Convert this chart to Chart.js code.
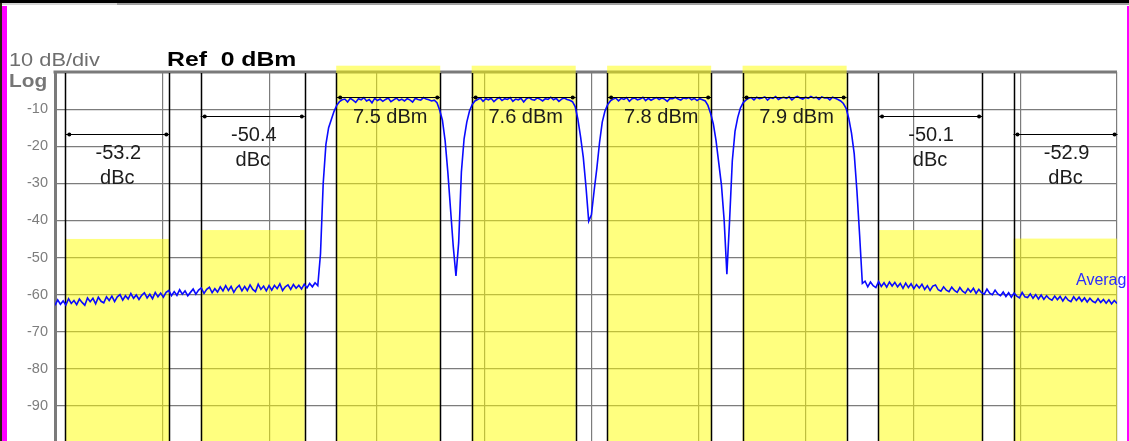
<!DOCTYPE html>
<html>
<head>
<meta charset="utf-8">
<script src="https://cdn.jsdelivr.net/npm/chart.js@4.4.1/dist/chart.umd.min.js"></script>
<style>
  html, body { margin: 0; padding: 0; background: #fff; overflow: hidden; }
  #wrap { width: 1129px; height: 460px; }
</style>
</head>
<body>
<div id="wrap"><canvas id="acp" width="1129" height="460"></canvas></div>
<script>
// SWEEP: 0.1 MHz per point, offset from centre frequency
const traceStart = -19.8;
const traceStep = 0.1;
const traceDbm = [
  -62.9, -61.4, -62.6, -61.7, -62.8, -61.1, -62.4, -61.6, -62.7, -61.2,
  -62.1, -62.9, -60.9, -61.9, -61.0, -62.5, -60.7, -61.8, -62.2, -60.6,
  -61.6, -60.4, -61.9, -60.6, -60.0, -61.5, -60.3, -61.2, -59.7, -61.0,
  -60.1, -61.3, -60.2, -59.5, -60.9, -59.9, -61.1, -59.4, -60.6, -59.6,
  -60.7, -59.4, -58.9, -60.3, -59.2, -60.2, -58.7, -59.9, -59.0, -60.3,
  -59.4, -58.5, -59.9, -58.8, -58.2, -59.7, -58.6, -58.0, -59.5, -58.4,
  -59.3, -57.9, -59.0, -57.6, -58.9, -57.8, -59.4, -58.2, -57.5, -59.0,
  -57.8, -58.9, -57.4, -58.6, -59.2, -57.2, -58.6, -57.7, -59.0, -57.6,
  -58.8, -57.5, -58.4, -57.1, -58.9, -57.9, -57.4, -58.6, -57.3, -58.3,
  -57.5, -58.5, -57.2, -58.2, -57.0, -57.9, -56.8, -57.6, -49.0, -30.0,
  -19.5, -15.0, -12.8, -10.6, -9.0, -8.0, -7.5, -7.3, -8.1, -7.1,
  -7.6, -8.2, -7.2, -7.5, -6.9, -7.8, -7.4, -8.3, -7.1, -7.7,
  -7.3, -7.9, -7.4, -7.0, -8.0, -7.5, -7.0, -7.7, -7.3, -7.8,
  -7.2, -7.5, -8.1, -7.1, -7.4, -7.6, -6.9, -7.3, -7.5, -7.8,
  -7.6, -8.3, -10.3, -13.0, -18.5, -27.0, -37.0, -47.0, -55.0, -46.0,
  -27.0, -18.0, -13.5, -10.5, -8.8, -7.8, -7.4, -7.0, -7.9, -7.2,
  -7.5, -7.1, -8.0, -7.3, -6.9, -7.7, -7.2, -7.4, -6.9, -7.9,
  -7.3, -7.5, -7.1, -8.1, -7.2, -6.9, -7.4, -7.6, -7.0, -7.3,
  -7.8, -7.2, -7.4, -6.8, -7.5, -7.1, -7.9, -7.3, -7.0, -7.4,
  -7.6, -8.0, -9.3, -12.7, -17.5, -23.0, -31.0, -40.2, -38.5, -32.0,
  -26.0, -19.0, -13.5, -10.5, -8.8, -7.8, -7.3, -7.0, -7.8, -7.1,
  -7.4, -6.9, -7.9, -7.2, -7.0, -7.5, -7.3, -6.8, -7.7, -7.1,
  -7.6, -7.2, -6.9, -7.4, -7.0, -7.3, -7.9, -7.1, -7.2, -6.8,
  -7.3, -7.6, -7.0, -7.2, -6.9, -7.5, -7.1, -7.7, -7.2, -7.5,
  -7.8, -9.0, -11.2, -14.0, -18.5, -24.5, -30.5, -40.0, -54.5, -40.0,
  -24.0, -16.0, -12.3, -9.7, -8.3, -7.6, -7.1, -6.9, -7.5, -6.8,
  -7.2, -7.0, -6.7, -7.6, -6.9, -7.1, -6.6, -7.4, -7.0, -6.8,
  -7.1, -6.7, -7.5, -6.9, -6.6, -7.0, -7.3, -6.8, -7.1, -6.6,
  -7.0, -6.8, -7.4, -6.7, -7.0, -6.9, -7.5, -6.8, -7.1, -7.4,
  -7.8, -8.5, -9.8, -12.5, -16.5, -22.0, -32.0, -44.0, -57.0, -56.4,
  -57.9, -56.6, -57.6, -58.1, -56.5, -57.8, -56.8, -58.0, -56.6, -57.7,
  -56.7, -57.9, -57.0, -58.3, -56.9, -58.1, -57.1, -58.4, -57.3, -58.2,
  -57.2, -58.6, -57.6, -58.9, -57.7, -57.4, -58.7, -59.1, -57.9, -58.8,
  -59.2, -58.0, -58.9, -59.4, -58.1, -59.1, -59.6, -58.4, -59.3, -58.3,
  -59.7, -58.6, -59.5, -59.9, -58.5, -59.6, -60.0, -58.8, -59.8, -60.3,
  -59.3, -60.5, -59.5, -60.7, -59.6, -60.4, -60.9, -59.4, -60.6, -60.8,
  -59.8, -61.0, -60.0, -61.2, -60.1, -61.3, -60.3, -61.1, -61.5, -60.4,
  -61.4, -60.5, -61.7, -60.6, -61.5, -61.9, -60.6, -61.6, -60.7, -61.8,
  -60.9, -62.0, -61.0, -61.8, -62.2, -61.1, -62.1, -61.3, -62.3, -61.4,
  -62.5, -61.6, -62.4
];

// ACP channels (MHz offset), integration bw, limit level, readout
const bandCenters = [-17.5, -12.5, -7.5, -2.5, 2.5, 7.5, 12.5, 17.5];
const bandWidth = 3.84;
const bandTops = [-45.0, -42.6, 1.7, 1.7, 1.7, 1.7, -42.6, -44.9];
const arrowLevels = [-16.8, -11.8, -6.8, -6.8, -6.8, -6.8, -11.8, -16.8];
const bandValues = ['-53.2', '-50.4', '7.5', '7.6', '7.8', '7.9', '-50.1', '-52.9'];
const bandUnits = ['dBc', 'dBc', 'dBm', 'dBm', 'dBm', 'dBm', 'dBc', 'dBc'];

// graticule
const yTickLabels = ['-10', '-20', '-30', '-40', '-50', '-60', '-70', '-80', '-90'];
const gridStart = -19.8, gridStep = 3.96, gridCount = 10;
const spanMin = -19.8, spanMax = 19.4;

const points = traceDbm.map((v, i) => ({ x: +(traceStart + i * traceStep).toFixed(2), y: v }));

function stretchText(ctx, txt, x, y, sx, font, color) {
  ctx.save();
  ctx.font = font;
  ctx.fillStyle = color;
  ctx.textAlign = 'left';
  ctx.textBaseline = 'alphabetic';
  ctx.translate(x, y);
  ctx.scale(sx, 1);
  ctx.fillText(txt, 0, 0);
  ctx.restore();
}

const acpPlugin = {
  id: 'acp',
  beforeDatasetsDraw(chart) {
    const { ctx, chartArea: a, scales: { x, y } } = chart;
    // thick top border of the graticule
    ctx.save();
    ctx.strokeStyle = '#7a7a7a';
    ctx.lineWidth = 3;
    ctx.beginPath();
    ctx.moveTo(a.left - 1.5, y.getPixelForValue(0));
    ctx.lineTo(a.right, y.getPixelForValue(0));
    ctx.stroke();

    ctx.beginPath();
    ctx.rect(a.left, 0, a.right - a.left, a.bottom);
    ctx.clip();
    // yellow integration bands
    ctx.fillStyle = 'rgba(255,255,0,0.5)';
    bandCenters.forEach((c, i) => {
      const x0 = x.getPixelForValue(c - bandWidth / 2);
      const x1 = x.getPixelForValue(c + bandWidth / 2);
      const yt = y.getPixelForValue(bandTops[i]);
      ctx.fillRect(x0, yt, x1 - x0, a.bottom - yt);
    });
    // band edges
    ctx.strokeStyle = '#000';
    ctx.lineWidth = 1.5;
    bandCenters.forEach(c => {
      [c - bandWidth / 2, c + bandWidth / 2].forEach(f => {
        const px = Math.round(x.getPixelForValue(f)) + 0.5;
        ctx.beginPath();
        ctx.moveTo(px, a.top + 1);
        ctx.lineTo(px, a.bottom);
        ctx.stroke();
      });
    });
    ctx.restore();
  },
  afterDatasetsDraw(chart) {
    const { ctx, scales: { x, y } } = chart;
    ctx.save();
    bandCenters.forEach((c, i) => {
      const x0 = x.getPixelForValue(c - bandWidth / 2);
      const x1 = x.getPixelForValue(c + bandWidth / 2);
      const ya = Math.round(y.getPixelForValue(arrowLevels[i])) + 0.5;
      ctx.strokeStyle = '#000';
      ctx.lineWidth = 1;
      ctx.beginPath();
      ctx.moveTo(x0, ya);
      ctx.lineTo(x1, ya);
      ctx.stroke();
      ctx.fillStyle = '#000';
      [x0 + 4, x1 - 3].forEach(px => {
        ctx.beginPath();
        ctx.arc(px, ya, 2, 0, Math.PI * 2);
        ctx.fill();
      });
      // readout text
      const xc = x.getPixelForValue(c);
      ctx.font = '20px "Liberation Sans", Arial, sans-serif';
      ctx.textAlign = 'center';
      ctx.textBaseline = 'middle';
      ctx.fillStyle = '#1c1c1c';
      if (bandUnits[i] === 'dBm') {
        ctx.fillText(bandValues[i] + ' ' + bandUnits[i], xc + 2, ya + 20);
      } else {
        ctx.fillText(bandValues[i], xc + 1, ya + 19);
        ctx.fillText(bandUnits[i], xc, ya + 44);
      }
    });
    ctx.restore();
  },
  afterDraw(chart) {
    const { ctx } = chart;
    ctx.save();
    // blank strip right of the graticule
    ctx.fillStyle = '#fff';
    ctx.fillRect(1119, 6, 8, 460);
    // marker text on the trace
    ctx.font = '16px "Liberation Sans", Arial, sans-serif';
    ctx.fillStyle = '#2b2bff';
    ctx.textAlign = 'left';
    ctx.textBaseline = 'alphabetic';
    ctx.fillText('Average', 1076, 285);
    ctx.restore();

    stretchText(ctx, '10 dB/div', 9, 66, 1.21, '18px "Liberation Sans", Arial, sans-serif', '#6e6e6e');
    stretchText(ctx, 'Log', 9, 87, 1.19, 'bold 17.5px "Liberation Sans", Arial, sans-serif', '#767676');
    stretchText(ctx, 'Ref  0 dBm', 167, 66, 1.27, 'bold 19.5px "Liberation Sans", Arial, sans-serif', '#000');

    // window frame
    ctx.save();
    ctx.fillStyle = '#000';
    ctx.fillRect(0, 0, 1129, 3);
    ctx.fillStyle = '#d4d4d4';
    ctx.fillRect(0, 3, 117, 2);
    ctx.fillStyle = '#a0a0a0';
    ctx.fillRect(117, 3, 1012, 2);
    ctx.fillStyle = '#2a2a10';
    ctx.fillRect(0, 3, 2, 460);
    ctx.fillStyle = '#ff00ff';
    ctx.fillRect(2, 6, 5, 460);
    ctx.fillRect(1127, 6, 2, 460);
    ctx.restore();
  }
};

const ctx = document.getElementById('acp').getContext('2d');
const acpChart = new Chart(ctx, {
  type: 'line',
  data: {
    datasets: [{
      data: points,
      borderColor: '#0a0aff',
      borderWidth: 1.6,
      pointRadius: 0,
      tension: 0,
      fill: false
    }]
  },
  options: {
    responsive: false,
    animation: false,
    devicePixelRatio: 1,
    layout: { padding: { top: 72, right: 12, bottom: 17, left: 0 } },
    plugins: { legend: { display: false }, tooltip: { enabled: false } },
    scales: {
      x: {
        type: 'linear',
        min: spanMin,
        max: spanMax,
        afterBuildTicks(scale) {
          const t = [];
          for (let k = 0; k < gridCount; k++) t.push({ value: gridStart + k * gridStep });
          t.push({ value: spanMax });
          scale.ticks = t;
        },
        afterFit(scale) { scale.height = 0; },
        ticks: { display: false },
        grid: { color: '#7c7c7c', lineWidth: 1.2, drawTicks: false },
        border: { display: false }
      },
      y: {
        min: -100,
        max: 0,
        afterFit(scale) { scale.width = 55; },
        ticks: {
          stepSize: 10,
          padding: 7,
          color: '#7d7d7d',
          font: { family: '"Liberation Sans", Arial, sans-serif', size: 14.5 },
          callback: v => yTickLabels.includes(String(v)) ? String(v) : ''
        },
        grid: { color: '#7c7c7c', lineWidth: 1.2, drawTicks: false },
        border: { display: true, color: '#7a7a7a', width: 3 }
      }
    }
  },
  plugins: [acpPlugin]
});
</script>
</body>
</html>
